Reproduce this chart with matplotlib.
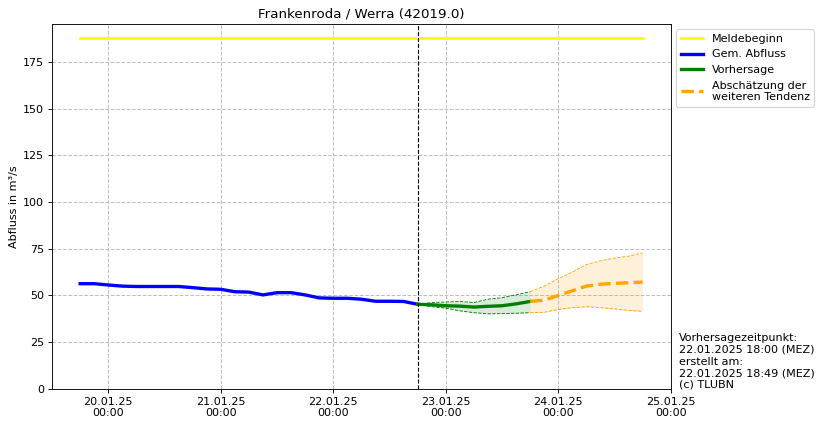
import numpy as np
import pandas as pd
import matplotlib
matplotlib.use("Agg")
import matplotlib.pyplot as plt
import matplotlib.dates as mdates

# Daten
meldebeginn = 188.0
t_mess = pd.date_range("2025-01-19 18:00", "2025-01-22 18:00", freq="3h")
abfluss = [56.3, 56.3, 55.6, 55.0, 54.8, 54.8, 54.8, 54.8, 54.2, 53.5, 53.3, 52.0, 51.8,
           50.3, 51.5, 51.5, 50.3, 48.7, 48.5, 48.5, 48.0, 46.9, 46.9, 46.8, 45.3]

t_vorh = pd.date_range("2025-01-22 18:00", "2025-01-23 18:00", freq="3h")
vorh = [45.3, 45.0, 44.5, 44.3, 43.8, 44.2, 44.5, 45.5, 46.8]
vorh_max = [45.3, 46.2, 46.5, 46.8, 46.2, 48.0, 48.8, 50.3, 52.0]
vorh_min = [45.3, 44.0, 43.2, 41.8, 40.8, 40.2, 40.3, 40.5, 40.8]

t_tend = pd.date_range("2025-01-23 18:00", "2025-01-24 18:00", freq="3h")
tend = [46.8, 47.5, 50.0, 52.5, 55.0, 56.0, 56.5, 56.8, 57.2]
tend_max = [52.0, 55.0, 59.0, 62.5, 66.5, 68.5, 70.0, 71.0, 72.8]
tend_min = [40.8, 41.0, 42.5, 43.5, 44.0, 43.5, 42.8, 42.0, 41.5]

t_jetzt = pd.Timestamp("2025-01-22 18:00")

fig = plt.figure(figsize=(826 / 80, 426 / 80), dpi=80)
ax = fig.add_axes([0.063, 0.087, 0.749, 0.857])

ax.plot([pd.Timestamp("2025-01-19 18:00"), pd.Timestamp("2025-01-24 18:00")],
        [meldebeginn, meldebeginn], color="yellow", lw=2.5, label="Meldebeginn")
ax.plot(t_mess, abfluss, color="blue", lw=3, label="Gem. Abfluss")

ax.fill_between(t_vorh, vorh_min, vorh_max, color="green", alpha=0.15, lw=0)
ax.plot(t_vorh, vorh_max, color="green", lw=0.8, ls="--")
ax.plot(t_vorh, vorh_min, color="green", lw=0.8, ls="--")
ax.plot(t_vorh, vorh, color="green", lw=3, label="Vorhersage")

ax.fill_between(t_tend, tend_min, tend_max, color="#ffa500", alpha=0.15, lw=0)
ax.plot(t_tend, tend_max, color="orange", lw=0.8, ls="--")
ax.plot(t_tend, tend_min, color="orange", lw=0.8, ls="--")
ax.plot(t_tend, tend, color="orange", lw=3, ls="--",
        label="Abschätzung der\nweiteren Tendenz")

ax.axvline(t_jetzt, color="black", lw=1, ls="--")

ax.set_xlim(pd.Timestamp("2025-01-19 12:00"), pd.Timestamp("2025-01-25 00:00"))
ax.set_ylim(0, 195.3)
ax.xaxis.set_major_locator(mdates.DayLocator())
ax.xaxis.set_major_formatter(mdates.DateFormatter("%d.%m.%y\n%H:%M"))
ax.grid(True, color="#c0c0c0", ls="--", lw=0.9)
ax.set_axisbelow(True)

ax.set_title("Frankenroda / Werra (42019.0)")
ax.set_ylabel("Abfluss in m³/s")
ax.legend(loc="upper left", bbox_to_anchor=(1.0, 1.0))

fig.text(0.822, 0.085,
         "Vorhersagezeitpunkt:\n22.01.2025 18:00 (MEZ)\nerstellt am:\n22.01.2025 18:49 (MEZ)\n(c) TLUBN",
         ha="left", va="bottom")

fig.savefig("out.png", dpi=80)
